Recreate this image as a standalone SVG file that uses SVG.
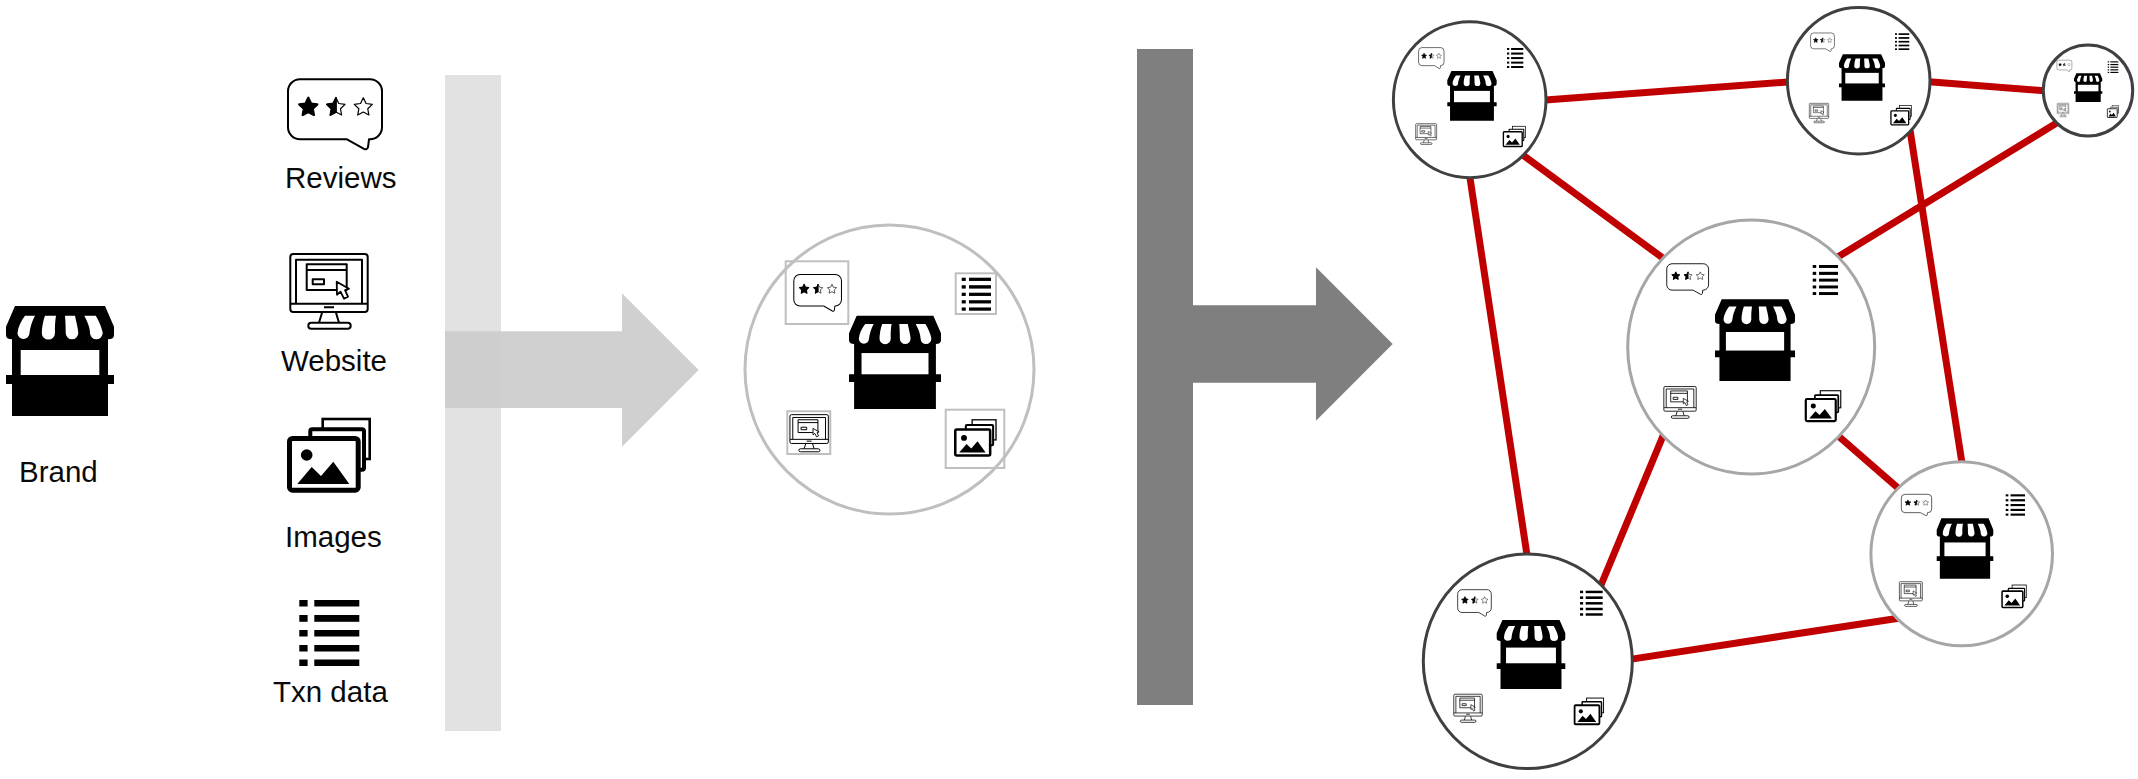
<svg xmlns="http://www.w3.org/2000/svg" xmlns:xlink="http://www.w3.org/1999/xlink" width="2138" height="779" viewBox="0 0 2138 779">
<style>
text{font-family:"Liberation Sans",Arial,sans-serif;font-size:29.500px;fill:#0a0a0a}
.lg{fill:#fff;stroke:#bfbfbf;stroke-width:3}
.mg{fill:#fff;stroke:#a6a6a6;stroke-width:3}
.dk{fill:#fff;stroke:#404040;stroke-width:3}
.bx{fill:none;stroke:#bfbfbf;stroke-width:2}
.ln{fill:none;stroke:#000;stroke-width:2;stroke-linejoin:round}
.wh{fill:#fff;stroke:#000}
#connectors line{stroke:#c00000;stroke-width:7}
</style>
<defs>
<path id="star" d="M0 -8.500L2.470 -3.400L8.080 -2.630L3.990 1.300L5 6.880L0 4.200L-5 6.880L-3.990 1.300L-8.080 -2.630L-2.470 -3.400Z"/>
<g id="store">
<path d="M9 0H99L108 20.700V29Q108 33.300 102 33.300V69H108V78H102V110H6V78H0V69H6V33.300Q0 33.300 0 29V20.700Z"/>
<rect x="14.700" y="44" width="78.600" height="25" fill="#fff"/>
<g fill="#fff">
<path d="M19 9.700H29C26 15 24 22 23.500 27A6 6 0 0 1 11.500 27C12 21 15 15 19 9.700Z"/>
<path d="M39 9.700H50C49 15 48.800 22 49 27A6.600 6.600 0 0 1 35.800 27C36 21 37 15 39 9.700Z"/>
<path d="M59 9.700H69C70 15 72 22 72.300 27A6.300 6.300 0 0 1 59.700 27C59.700 21 59.500 15 59 9.700Z"/>
<path d="M78.300 9.700H89.700C93 15 96 22 96.700 27A6.300 6.300 0 0 1 84 27C84 21 81 15 78.300 9.700Z"/>
</g>
</g>
<g id="rev">
<path class="ln" d="M13 1H83A12 12 0 0 1 95 13V49A12 12 0 0 1 83 61H82L81 69Q80 72 77 70.500L60 61H13A12 12 0 0 1 1 49V13A12 12 0 0 1 13 1Z"/>
<use xlink:href="#star" href="#star" transform="translate(21.300 29) scale(1.120)" stroke="#000" stroke-width="2" stroke-linejoin="round"/>
<use xlink:href="#star" href="#star" transform="translate(49 29) scale(1.120)" fill="#fff" stroke="#000" stroke-width="1.100" stroke-linejoin="round"/>
<path d="M49 19.500V33.700L43.400 36.700L44.500 30.500L39.950 26.050L46.230 25.200Z" stroke="#000" stroke-width="1.800" stroke-linejoin="round"/>
<use xlink:href="#star" href="#star" transform="translate(76.300 29) scale(1.120)" fill="#fff" stroke="#000" stroke-width="1.100" stroke-linejoin="round"/>
</g>
<g id="web">
<rect class="ln" x="1.300" y="1.300" width="77.400" height="58" rx="3" stroke-width="2.500"/>
<path class="ln" d="M7 51V7H73V51M1.300 51H78.700"/>
<rect class="ln" x="17.700" y="11.600" width="40" height="25.700"/>
<path class="ln" d="M17.700 17.300H57.700"/>
<rect class="ln" x="23.700" y="26.600" width="11.300" height="5" stroke-width="1.500"/>
<path class="wh" stroke-width="1.800" stroke-linejoin="round" d="M47.700 29L48 42L51.500 39L55 46L59 44L56 37.500L60 36Z"/>
<path class="ln" d="M35 54.600H45M33 60L30 70M47 60L50 70"/>
<rect class="wh" x="19.300" y="70" width="42.400" height="6" rx="3" stroke-width="2"/>
</g>
<g id="img">
<rect class="wh" x="35.700" y="1" width="47" height="40" stroke-width="2.600"/>
<rect class="wh" x="23.300" y="11.300" width="53.700" height="40.400" rx="2" stroke-width="4"/>
<rect class="wh" x="2.500" y="20.500" width="68.700" height="51.700" rx="3" stroke-width="5"/>
<circle cx="19.700" cy="37" r="5.800"/>
<path d="M10.300 66L24.700 49L34 58L46.300 43.700L62.300 66Z"/>
</g>
<g id="txn">
<rect y="0" width="8.300" height="6.500"/><rect x="15" y="0" width="45" height="6.500"/>
<rect y="15" width="8.300" height="6.800"/><rect x="15" y="15" width="45" height="6.800"/>
<rect y="30" width="8.300" height="6.500"/><rect x="15" y="30" width="45" height="6.500"/>
<rect y="45" width="8.300" height="6.500"/><rect x="15" y="45" width="45" height="6.500"/>
<rect y="59.500" width="8.300" height="6.500"/><rect x="15" y="59.500" width="45" height="6.500"/>
</g>
</defs>
<rect width="2138" height="779" fill="#fff"/>

<g id="bar-light">
<polygon points="445,331.300 622,331.300 622,293.300 698.700,370 622,446.700 622,408 445,408" fill="#d0d0d0"/>
<rect x="445" y="75" width="56" height="256.300" fill="#e2e2e2"/>
<rect x="445" y="408" width="56" height="323" fill="#e2e2e2"/>
<rect x="445" y="331.300" width="56" height="76.700" fill="#cecece"/>
</g>
<g id="bar-dark">
<polygon points="1137,49 1193,49 1193,305.300 1316,305.300 1316,267.300 1392.700,344 1316,420.700 1316,382.700 1193,382.700 1193,705 1137,705" fill="#7f7f7f"/>
</g>

<g id="brand">
<use xlink:href="#store" href="#store" transform="translate(6 306)"/>
<text x="19" y="481.700">Brand</text>
</g>
<g id="reviews">
<use xlink:href="#rev" href="#rev" transform="translate(287 78.300)"/>
<text x="285" y="188">Reviews</text>
</g>
<g id="website">
<use xlink:href="#web" href="#web" transform="translate(289 252.700)"/>
<text x="281" y="370.700">Website</text>
</g>
<g id="images">
<use xlink:href="#img" href="#img" transform="translate(287 418)"/>
<text x="285" y="546.700">Images</text>
</g>
<g id="txn-data">
<use xlink:href="#txn" href="#txn" transform="translate(299.300 600)"/>
<text x="273" y="701.700">Txn data</text>
</g>

<g id="brand-node">
<circle class="lg" cx="889.500" cy="369.500" r="144.500"/>
<use xlink:href="#store" href="#store" transform="translate(849 315.700) scale(.852 .849)"/>
<use xlink:href="#rev" href="#rev" transform="translate(793.300 274) scale(.507 .524)"/>
<use xlink:href="#txn" href="#txn" transform="translate(961.700 277.700) scale(.488 .5)"/>
<use xlink:href="#web" href="#web" transform="translate(789.300 414) scale(.496 .497)"/>
<use xlink:href="#img" href="#img" transform="translate(954 419.300) scale(.508 .503)"/>
<rect class="bx" x="785.700" y="261.300" width="62.600" height="62.700"/>
<rect class="bx" x="955.700" y="273.300" width="40.300" height="40.700"/>
<rect class="bx" x="787.300" y="411.300" width="43" height="42.700"/>
<rect class="bx" x="945.700" y="409.700" width="58.600" height="58.300"/>
</g>

<g id="connectors">
<line x1="1542" y1="100.300" x2="1791" y2="81.700"/>
<line x1="1521.800" y1="154.300" x2="1665.500" y2="260"/>
<line x1="1469.400" y1="174" x2="1527.300" y2="557"/>
<line x1="1926" y1="81.400" x2="2047" y2="91"/>
<line x1="2060.700" y1="120.600" x2="1834.900" y2="258.800"/>
<line x1="1910" y1="130" x2="1962.600" y2="467"/>
<line x1="1835.300" y1="433.400" x2="1901.300" y2="490.900"/>
<line x1="1664.200" y1="433" x2="1600.200" y2="587"/>
<line x1="1901.700" y1="617.700" x2="1628.300" y2="659.600"/>
</g>

<g id="node-1">
<ellipse class="dk" cx="1469.700" cy="99.700" rx="76.300" ry="78"/>
<use xlink:href="#store" href="#store" transform="translate(1447.300 71) scale(.457 .452)"/>
<use xlink:href="#rev" href="#rev" transform="translate(1418.300 47.300) scale(.271 .301)"/>
<use xlink:href="#txn" href="#txn" transform="translate(1507 48) scale(.272 .303)"/>
<use xlink:href="#web" href="#web" transform="translate(1415.300 123.300) scale(.271 .278)"/>
<use xlink:href="#img" href="#img" transform="translate(1502.700 126) scale(.274 .284)"/>
</g>
<g id="node-2">
<ellipse class="dk" cx="1858.700" cy="80.700" rx="71.300" ry="73.300"/>
<use xlink:href="#store" href="#store" transform="translate(1839 54.300) scale(.426 .422)"/>
<use xlink:href="#rev" href="#rev" transform="translate(1810.300 32.700) scale(.254 .264)"/>
<use xlink:href="#txn" href="#txn" transform="translate(1895 33.300) scale(.238 .253)"/>
<use xlink:href="#web" href="#web" transform="translate(1809 103) scale(.25 .26)"/>
<use xlink:href="#img" href="#img" transform="translate(1890.300 105.300) scale(.258 .272)"/>
</g>
<g id="node-3">
<ellipse class="dk" cx="2088" cy="90.500" rx="44.700" ry="45.500"/>
<use xlink:href="#store" href="#store" transform="translate(2074 73.300) scale(.262 .261)"/>
<use xlink:href="#rev" href="#rev" transform="translate(2056.700 60) scale(.16 .163)"/>
<use xlink:href="#txn" href="#txn" transform="translate(2107.700 61.300) scale(.177 .177)"/>
<use xlink:href="#web" href="#web" transform="translate(2057 103) scale(.15 .182)"/>
<use xlink:href="#img" href="#img" transform="translate(2107 105.300) scale(.143 .169)"/>
</g>
<g id="node-4">
<ellipse class="mg" cx="1751.200" cy="347" rx="123.500" ry="127"/>
<use xlink:href="#store" href="#store" transform="translate(1715 299.300) scale(.741 .743)"/>
<use xlink:href="#rev" href="#rev" transform="translate(1666.300 263.300) scale(.445 .44)"/>
<use xlink:href="#txn" href="#txn" transform="translate(1812.700 265) scale(.422 .455)"/>
<use xlink:href="#web" href="#web" transform="translate(1663.300 386) scale(.418 .425)"/>
<use xlink:href="#img" href="#img" transform="translate(1804.700 390.300) scale(.436 .427)"/>
</g>
<g id="node-5">
<ellipse class="mg" cx="1961.700" cy="553.800" rx="90.800" ry="92"/>
<use xlink:href="#store" href="#store" transform="translate(1936.700 518.300) scale(.524 .549)"/>
<use xlink:href="#rev" href="#rev" transform="translate(1901 494) scale(.323 .306)"/>
<use xlink:href="#txn" href="#txn" transform="translate(2005.700 494.300) scale(.322 .324)"/>
<use xlink:href="#web" href="#web" transform="translate(1899 581.300) scale(.296 .33)"/>
<use xlink:href="#img" href="#img" transform="translate(2001.300 584.700) scale(.302 .315)"/>
</g>
<g id="node-6">
<ellipse class="dk" cx="1527.800" cy="661.300" rx="104.500" ry="107.300"/>
<use xlink:href="#store" href="#store" transform="translate(1496.700 620) scale(.635 .627)"/>
<use xlink:href="#rev" href="#rev" transform="translate(1457.300 589.300) scale(.358 .38)"/>
<use xlink:href="#txn" href="#txn" transform="translate(1580 590.700) scale(.378 .379)"/>
<use xlink:href="#web" href="#web" transform="translate(1453.300 693.700) scale(.368 .377)"/>
<use xlink:href="#img" href="#img" transform="translate(1573.700 697.700) scale(.361 .368)"/>
</g>
</svg>
